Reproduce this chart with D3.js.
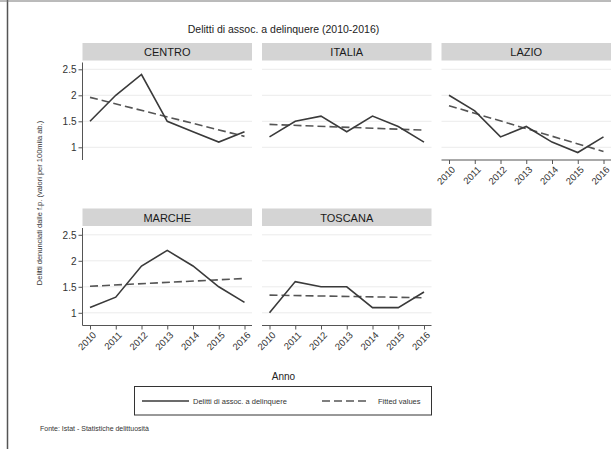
<!DOCTYPE html>
<html>
<head>
<meta charset="utf-8">
<script src="https://cdnjs.cloudflare.com/ajax/libs/d3/7.8.5/d3.min.js"></script>
<style>
  body { margin: 0; background: #fff; }
  svg { display: block; font-family: "Liberation Sans", Arial, sans-serif; }
</style>
</head>
<body>
<svg id="chart" width="611" height="449"></svg>
<script>
// data
var years = [2010, 2011, 2012, 2013, 2014, 2015, 2016];
var regions = ['CENTRO', 'ITALIA', 'LAZIO', 'MARCHE', 'TOSCANA'];
var centro = [1.5, 2.0, 2.4, 1.5, 1.3, 1.1, 1.3];
var italia = [1.2, 1.5, 1.6, 1.3, 1.6, 1.4, 1.1];
var lazio = [2.0, 1.7, 1.2, 1.4, 1.1, 0.9, 1.2];
var marche = [1.1, 1.3, 1.9, 2.2, 1.9, 1.5, 1.2];
var toscana = [1.0, 1.6, 1.5, 1.5, 1.1, 1.1, 1.4];
// fitted values at 2010 and 2016
var fitCentro = [1.96, 1.21];
var fitItalia = [1.44, 1.33];
var fitLazio = [1.80, 0.92];
var fitMarche = [1.51, 1.66];
var fitToscana = [1.34, 1.29];
var yTicks = [1, 1.5, 2, 2.5];

var series = [centro, italia, lazio, marche, toscana];
var fits = [fitCentro, fitItalia, fitLazio, fitMarche, fitToscana];

var svg = d3.select('#chart');

//frame
svg.append('line').attr('x1', 7.5).attr('x2', 7.5).attr('y1', 0).attr('y2', 449)
    .attr('stroke', '#555').attr('stroke-width', 1.5);
svg.append('line').attr('x1', 0).attr('x2', 611).attr('y1', 1).attr('y2', 1)
    .attr('stroke', '#777').attr('stroke-width', 1);

//layout
var colX = [82.5, 262, 441.5],
    panelW = 169.5,
    rowY = [43, 208.5],
    headH = 17.5;

svg.append('text')
    .attr('x', 283.5).attr('y', 33)
    .attr('text-anchor', 'middle')
    .attr('font-size', 10.5).attr('fill', '#222')
    .text('Delitti di assoc. a delinquere (2010-2016)');

regions.forEach(function (name, i) {
    var col = i % 3, row = Math.floor(i / 3);
    var x0 = colX[col], top = rowY[row];
    var axisY = top + 117;
    var g = svg.append('g');

    var x = d3.scaleLinear().domain([2010, 2016]).range([x0 + 7.5, x0 + panelW - 7.5]);
    var y = d3.scaleLinear().domain([1, 2.5]).range([top + 104.3, top + 26.3]);

    //header
    g.append('rect').attr('x', x0).attr('y', top)
        .attr('width', panelW).attr('height', headH)
        .attr('fill', '#d4d4d4');
    g.append('text').attr('x', x0 + panelW / 2).attr('y', top + 13)
        .attr('text-anchor', 'middle').attr('font-size', 11)
        .attr('font-weight', 'normal')
        .attr('fill', '#1a1a1a').text(name);

    //grid
    g.selectAll('.grid').data(yTicks).enter().append('line')
        .attr('x1', x0).attr('x2', x0 + panelW)
        .attr('y1', function (d) { return y(d); })
        .attr('y2', function (d) { return y(d); })
        .attr('stroke', '#ebebeb').attr('stroke-width', 1);

    //y axis on left column
    if (col === 0) {
        var ya = g.append('g')
            .attr('transform', 'translate(' + x0 + ',0)')
            .call(d3.axisLeft(y).tickValues(yTicks).tickSize(4).tickPadding(2)
                .tickFormat(d3.format('')));
        ya.select('.domain').remove();
        ya.append('line').attr('x1', 0).attr('x2', 0)
            .attr('y1', top + headH + 2).attr('y2', axisY)
            .attr('stroke', '#555').attr('stroke-width', 1);
        ya.selectAll('.tick line').attr('stroke', '#555');
        ya.selectAll('.tick text').attr('font-size', 10).attr('fill', '#333')
            .attr('font-family', '"Liberation Sans", Arial, sans-serif');
    }

    //x axis on bottom panels
    if (row === 1 || i === 2) {
        var xa = g.append('g')
            .attr('transform', 'translate(0,' + axisY + ')')
            .call(d3.axisBottom(x).tickValues(years).tickSize(4)
                .tickFormat(d3.format('d')));
        xa.select('.domain').remove();
        xa.append('line').attr('x1', x0).attr('x2', x0 + panelW)
            .attr('stroke', '#555').attr('stroke-width', 1);
        xa.selectAll('.tick line').attr('stroke', '#555');
        xa.selectAll('.tick text')
            .attr('font-size', 9.5).attr('fill', '#333')
            .attr('font-family', '"Liberation Sans", Arial, sans-serif')
            .attr('text-anchor', 'end')
            .attr('y', 0).attr('dy', '0.35em')
            .attr('transform', 'translate(4,8) rotate(-45)');
    }

    //fitted
    g.append('path')
        .datum([years[0], years[years.length - 1]])
        .attr('d', d3.line()
            .x(function (d) { return x(d); })
            .y(function (d, j) { return y(fits[i][j]); }))
        .attr('fill', 'none').attr('stroke', '#555')
        .attr('stroke-width', 1.6).attr('stroke-dasharray', '8,4');

    //observed
    g.append('path')
        .datum(series[i])
        .attr('d', d3.line()
            .x(function (d, j) { return x(years[j]); })
            .y(function (d) { return y(d); }))
        .attr('fill', 'none').attr('stroke', '#3a3a3a')
        .attr('stroke-width', 1.6).attr('stroke-linejoin', 'miter');
});

//axis titles
svg.append('text')
    .attr('transform', 'translate(42,203) rotate(-90)')
    .attr('text-anchor', 'middle').attr('font-size', 7.5).attr('fill', '#333')
    .text('Delitti denunciati dalle f.p. (valori per 100mila ab.)');
svg.append('text')
    .attr('x', 283.5).attr('y', 380)
    .attr('text-anchor', 'middle').attr('font-size', 10).attr('fill', '#222')
    .text('Anno');

//legend
var lg = svg.append('g');
lg.append('rect').attr('x', 134.5).attr('y', 386.5)
    .attr('width', 297).attr('height', 28.5)
    .attr('fill', '#fff').attr('stroke', '#333').attr('stroke-width', 1);
lg.append('line').attr('x1', 142).attr('x2', 189).attr('y1', 401).attr('y2', 401)
    .attr('stroke', '#3a3a3a').attr('stroke-width', 1.6);
lg.append('text').attr('x', 193).attr('y', 403.5)
    .attr('font-size', 7.5).attr('fill', '#333').text('Delitti di assoc. a delinquere');
lg.append('line').attr('x1', 322).attr('x2', 370).attr('y1', 401).attr('y2', 401)
    .attr('stroke', '#555').attr('stroke-width', 1.6).attr('stroke-dasharray', '8,4');
lg.append('text').attr('x', 378).attr('y', 403.5)
    .attr('font-size', 7.5).attr('fill', '#333').text('Fitted values');

//source
svg.append('text').attr('x', 40).attr('y', 431)
    .attr('font-size', 7).attr('fill', '#333')
    .text('Fonte: Istat - Statistiche delittuosità');
</script>
</body>
</html>
